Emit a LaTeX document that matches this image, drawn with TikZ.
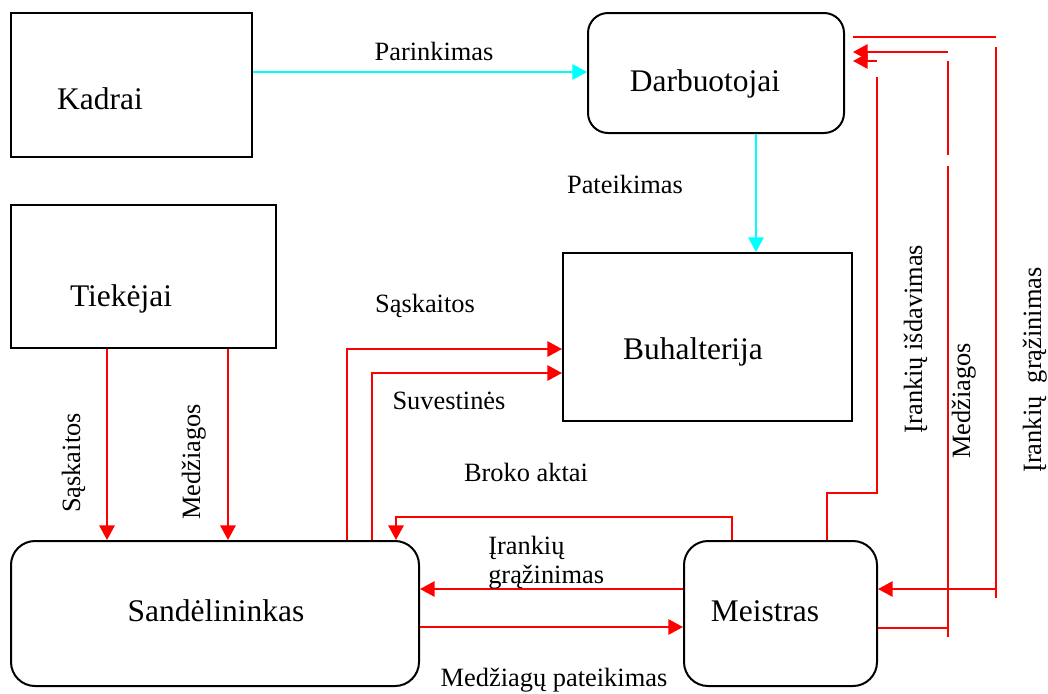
\documentclass[tikz,border=0pt]{standalone}
\usepackage{fontspec}
\setmainfont{Liberation Serif}
\usetikzlibrary{arrows.meta,fit}
\definecolor{flowcyan}{RGB}{0,255,255}
\definecolor{flowred}{RGB}{255,0,0}
\begin{document}
\begin{tikzpicture}[x=0.75pt,y=-0.75pt,
  box/.style={draw=black,line width=1.5pt,inner sep=0pt},
  rbox/.style={box,rounded corners=#1},
  title/.style={font=\fontsize{23.6}{28}\selectfont,inner sep=0pt,anchor=base},
  lbl/.style={font=\fontsize{19.8}{24}\selectfont,inner sep=0pt,anchor=base},
  vlbl/.style={lbl,rotate=90},
  tip/.style={-{Triangle[length=11pt,width=11.5pt]}},
  redline/.style={draw=flowred,line width=1.5pt},
  redarrow/.style={redline,tip},
  cyanarrow/.style={draw=flowcyan,line width=1.5pt,tip}]
\useasboundingbox (0,0) rectangle (1048,693);

% boxes
\node[box,fit={(11,13) (252,157)}] (kadrai) {};
\node[rbox=15pt,fit={(588,13) (844,133)}] (darb) {};
\node[box,fit={(11,205) (276,348)}] (tiek) {};
\node[box,fit={(563,253) (852,421)}] (buh) {};
\node[rbox=18pt,fit={(11,541) (419,686)}] (sand) {};
\node[rbox=18pt,fit={(684,541) (877,686)}] (meis) {};

% box titles
\node[title] (tKadrai) at (100,109) {Kadrai};
\node[title] (tDarb) at (705,91) {Darbuotojai};
\node[title] (tTiek) at (121,306) {Tiekėjai};
\node[title] (tBuh) at (693,359) {Buhalterija};
\node[title] (tSand) at (216,621) {Sandėlininkas};
\node[title] (tMeis) at (765,621) {Meistras};

% personnel flows
\draw[cyanarrow] (kadrai.east |- 0,72) -- (darb.west |- 0,72);
\draw[cyanarrow] (darb.south -| 756,0) -- (buh.north -| 756,0);
\node[lbl] (lParinkimas) at (434,60) {Parinkimas};
\node[lbl] (lPateikimas) at (625,193) {Pateikimas};

% supplier flows
\draw[redarrow] (tiek.south -| 107,0) -- (sand.north -| 107,0);
\draw[redarrow] (tiek.south -| 228,0) -- (sand.north -| 228,0);
\node[vlbl] (lSask1) at (80,463) {Sąskaitos};
\node[vlbl] (lMedz1) at (200,462) {Medžiagos};

% store to accounting
\draw[redarrow] (sand.north -| 347,0) |- (buh.west |- 0,349);
\draw[redarrow] (sand.north -| 372,0) |- (buh.west |- 0,373);
\node[lbl] (lSask2) at (425,312) {Sąskaitos};
\node[lbl] (lSuv) at (449,409) {Suvestinės};

% store <-> foreman
\draw[redarrow] (meis.north -| 732,0) |- (396,517) -- (sand.north -| 396,0);
\node[lbl] (lBroko) at (526,481) {Broko aktai};
\draw[redarrow] (meis.west |- 0,589) -- (sand.east |- 0,589);
\node[lbl,anchor=base west] (lIrank1) at (488,554) {Įrankių};
\node[lbl,anchor=base west] (lIrank2) at (488,583) {grąžinimas};
\draw[redarrow] (sand.east |- 0,627) -- (meis.west |- 0,627);
\node[lbl] (lMedzPat) at (554,686) {Medžiagų pateikimas};

% foreman <-> workers
\coordinate (isdTop) at (877,77);
\draw[redline] (meis.north -| 827,0) |- (877,493) -- (isdTop);
\draw[redarrow,shorten >=6pt] (877,61) -- (darb.east |- 0,61);
\node[vlbl] (lIsd) at (922,339) {Įrankių išdavimas};

\draw[redline] (meis.east |- 0,628) -- (948,628);
\draw[redline] (948,637) -- (948,166);
\draw[redline] (948,155) -- (948,61);
\draw[redarrow,shorten >=6pt] (948,52) -- (darb.east |- 0,52);
\node[vlbl] (lMedz2) at (970,401) {Medžiagos};

\draw[redline,shorten <=6pt] (darb.east |- 0,37) -- (996,37);
\draw[redline] (996,47) -- (996,598);
\draw[redarrow] (996,589) -- (meis.east |- 0,589);
\node[vlbl] (lGraz) at (1041,370) {Įrankių~~grąžinimas};
\end{tikzpicture}
\end{document}
